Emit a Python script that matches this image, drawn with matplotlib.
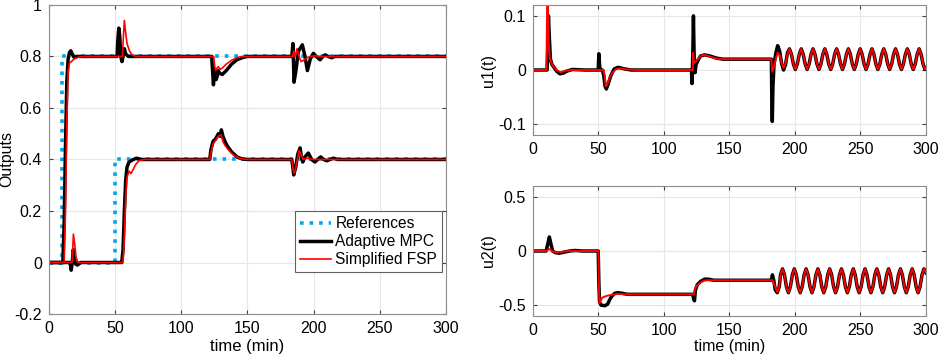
import matplotlib as mpl
mpl.use('Agg')
import matplotlib.pyplot as plt
from matplotlib.ticker import FuncFormatter

plt.rcParams['font.family'] = ['Liberation Sans', 'DejaVu Sans']
plt.rcParams['axes.unicode_minus'] = False

# references
ref1_t = [0, 10, 10, 300]
ref1_v = [0, 0, 0.8, 0.8]
ref2_t = [0, 50, 50, 300]
ref2_v = [0, 0, 0.4, 0.4]

# output 1, adaptive MPC
y1_mpc_t = [0, 10.5, 11.5, 12.5, 13.5, 14.5, 15.5, 16.5, 17.5, 19, 21, 51.5, 52, 52.8, 53.5, 54.3,
            55.2, 56, 57, 58, 60, 123, 123.7, 124.3, 125, 125.6, 126.3, 127, 128, 129, 131, 134,
            138, 142, 146, 150, 183.5, 184.4, 185.2, 186.5, 188.5, 191.5, 193.5, 195.3, 197.5,
            199.8, 202, 204.9, 207, 208.7, 211, 213.7, 216, 220, 300]
y1_mpc_v = [0, 0, 0.15, 0.45, 0.7, 0.79, 0.815, 0.822, 0.81, 0.797, 0.8, 0.8, 0.86, 0.91, 0.88, 0.8,
            0.78, 0.8, 0.83, 0.81, 0.8, 0.8, 0.74, 0.69, 0.73, 0.75, 0.71, 0.72, 0.745, 0.735, 0.73, 0.745,
            0.77, 0.787, 0.795, 0.8, 0.8, 0.85, 0.70, 0.74, 0.82, 0.845, 0.80, 0.745, 0.79,
            0.812, 0.80, 0.787, 0.80, 0.806, 0.80, 0.795, 0.80, 0.80, 0.80]

# output 1, simplified FSP
y1_fsp_t = [0, 11.5, 12.5, 13.5, 14.5, 15.5, 17, 19, 22, 26, 55.5, 56.3, 57, 57.8, 59, 61, 63, 66,
            124.5, 125.3, 126, 127, 128, 129.5, 131, 134, 138, 142, 146, 184, 185, 186, 187.5, 189,
            190.5, 192.5, 195, 198, 201, 205, 300]
y1_fsp_v = [0, 0, 0.2, 0.55, 0.74, 0.775, 0.78, 0.79, 0.797, 0.8, 0.8, 0.88, 0.94, 0.9, 0.85, 0.82, 0.805, 0.8,
            0.8, 0.76, 0.745, 0.755, 0.76, 0.75, 0.755, 0.77, 0.785, 0.795, 0.8, 0.8, 0.82, 0.8, 0.83, 0.8,
            0.78, 0.785, 0.795, 0.8, 0.803, 0.8, 0.8]

# output 2, adaptive MPC
y2_mpc_t = [0, 16, 16.8, 17.6, 18.4, 19.2, 20, 21.5, 24, 55, 56, 57, 58, 59, 60.5, 63, 66, 70,
            121.5, 122.5, 124, 126, 128, 129.5, 130.3, 131.5, 133, 135, 138, 142, 146, 150,
            183.5, 184.3, 185, 186.5, 188, 189.8, 190.8, 191.8, 193.5, 196, 198.5, 201, 203,
            205.4, 207.5, 210, 212.5, 215, 218, 300]
y2_mpc_v = [0, 0, -0.03, 0.0, 0.05, 0.02, -0.005, -0.01, 0, 0, 0.05, 0.2, 0.32, 0.37, 0.39, 0.398, 0.405, 0.4,
            0.4, 0.44, 0.47, 0.48, 0.5, 0.49, 0.515, 0.49, 0.47, 0.45, 0.43, 0.41, 0.402, 0.4,
            0.4, 0.37, 0.34, 0.37, 0.42, 0.445, 0.41, 0.39, 0.41, 0.425, 0.40, 0.39, 0.40,
            0.41, 0.40, 0.395, 0.40, 0.405, 0.40, 0.40]

# output 2, simplified FSP
y2_fsp_t = [0, 17.5, 18.5, 19.5, 20.5, 22, 56, 57, 58, 59, 60.5, 62, 63.5, 65.5, 68, 72,
            121.5, 122.5, 124, 126, 128, 130, 131.5, 133, 136, 140, 145, 150,
            183.5, 184.5, 185.5, 187, 189, 190.5, 192, 195, 200, 300]
y2_fsp_v = [0, 0, 0.11, 0.07, 0.02, 0, 0, 0.1, 0.25, 0.33, 0.355, 0.345, 0.36, 0.38, 0.395, 0.4,
            0.4, 0.43, 0.46, 0.475, 0.49, 0.495, 0.47, 0.455, 0.435, 0.415, 0.403, 0.4,
            0.4, 0.36, 0.345, 0.38, 0.435, 0.42, 0.40, 0.405, 0.40, 0.40]

# u1 transients up to the start of the steady oscillation
u1_mpc_t = [0, 10.8, 11.5, 11.8, 12.5, 13.3, 14.5, 16, 18, 20.5, 23, 26, 30, 35, 40, 49.8, 50.3, 50.8,
            51.3, 53, 54, 55, 56, 57.5, 59.5, 62, 65, 70, 75, 121, 121.4, 122, 122.5, 123, 123.7,
            124.5, 126, 128, 131, 135, 140, 145, 182, 182.3, 182.7, 183.2, 184, 185.3, 186.8,
            188.3, 189.8, 191.3, 192.8, 194.3]
u1_mpc_v = [0, 0, 0.06, 0.10, 0.06, 0.02, 0.01, 0.005, -0.002, -0.007, -0.006, -0.002, 0.001, 0.0005, 0, 0, 0.03, 0.01,
            0, 0, -0.01, -0.03, -0.035, -0.025, -0.01, 0.002, 0.005, 0.002, 0, 0, -0.025, 0.03, 0.10, 0.03, -0.005,
            0.01, 0.018, 0.026, 0.028, 0.026, 0.022, 0.02, 0.02, -0.05, -0.095, -0.03, 0.01, 0.03, 0.045,
            0.035, 0.012, 0.0, 0.01, 0.032]
u1_fsp_t = [0, 10.3, 10.6, 11, 11.6, 12.2, 13, 15, 18, 21, 25, 30, 54, 54.8, 55.5, 56.5, 58, 60, 63,
            66, 72, 80, 122, 122.3, 123, 124, 126, 128.5, 131, 135, 140, 146, 182, 182.6, 184,
            185.3, 186.8, 188.3, 189.8, 191.3, 192.8, 194.3]
u1_fsp_v = [0, 0, 0.08, 0.16, 0.10, 0.04, 0.02, 0.008, 0, -0.004, -0.001, 0, 0, -0.012, -0.03, -0.028, -0.018, -0.007, 0.001,
            0.003, 0.001, 0, 0, 0.032, 0.012, 0.015, 0.02, 0.027, 0.028, 0.025, 0.021, 0.02, 0.02, -0.003, 0.005,
            0.02, 0.032, 0.028, 0.013, 0.004, 0.012, 0.03]

# u1 steady oscillation (both controllers overlap)
u1_osc_t = [195.8, 197.3, 198.8, 200.3, 201.8, 203.3,
            204.8, 206.3, 207.8, 209.3, 210.8, 212.3,
            213.8, 215.3, 216.8, 218.3, 219.8, 221.3,
            222.8, 224.3, 225.8, 227.3, 228.8, 230.3,
            231.8, 233.3, 234.8, 236.3, 237.8, 239.3,
            240.8, 242.3, 243.8, 245.3, 246.8, 248.3,
            249.8, 251.3, 252.8, 254.3, 255.8, 257.3,
            258.8, 260.3, 261.8, 263.3, 264.8, 266.3,
            267.8, 269.3, 270.8, 272.3, 273.8, 275.3,
            276.8, 278.3, 279.8, 281.3, 282.8, 284.3,
            285.8, 287.3, 288.8, 290.3, 291.8, 293.3,
            294.8, 296.3, 297.8, 299.3, 300]
u1_osc_v = [0.039, 0.029, 0.011, 0.001, 0.011, 0.029,
            0.039, 0.029, 0.011, 0.001, 0.011, 0.029,
            0.039, 0.029, 0.011, 0.001, 0.011, 0.029,
            0.039, 0.029, 0.011, 0.001, 0.011, 0.029,
            0.039, 0.029, 0.011, 0.001, 0.011, 0.029,
            0.039, 0.029, 0.011, 0.001, 0.011, 0.029,
            0.039, 0.029, 0.011, 0.001, 0.011, 0.029,
            0.039, 0.029, 0.011, 0.001, 0.011, 0.029,
            0.039, 0.029, 0.011, 0.001, 0.011, 0.029,
            0.039, 0.029, 0.011, 0.001, 0.011, 0.029,
            0.039, 0.029, 0.011, 0.001, 0.011, 0.029,
            0.039, 0.029, 0.011, 0.001, 0.003]

# u2 transients
u2_mpc_t = [0, 10, 11, 12.5, 13.8, 15, 17, 20, 24, 28, 32, 38, 49.8, 50.3, 50.8, 52, 55, 57, 58.5,
            60, 62.5, 65, 68, 72, 122, 122.6, 123.3, 124, 125.5, 128, 131, 134, 138, 182, 182.8,
            183.8, 185, 186.5, 188, 189]
u2_mpc_v = [0, 0, 0.05, 0.13, 0.06, 0, -0.015, -0.02, -0.01, 0, 0.005, 0, 0, -0.3, -0.47, -0.5, -0.505, -0.49, -0.45,
            -0.42, -0.39, -0.385, -0.39, -0.4, -0.4, -0.44, -0.46, -0.36, -0.31, -0.28, -0.26, -0.26, -0.27, -0.27, -0.22,
            -0.27, -0.36, -0.385, -0.33, -0.22]
u2_fsp_t = [0, 10.5, 12, 13, 15, 18, 22, 28, 50, 50.3, 50.7, 51.5, 53, 56, 60, 65, 70, 122, 122.8,
            123.5, 125, 128, 131, 135, 182, 183, 184.5, 186.5, 188, 189]
u2_fsp_v = [0, 0, 0.02, 0.015, -0.005, -0.012, -0.008, 0, 0, -0.3, -0.48, -0.46, -0.43, -0.415, -0.405, -0.395, -0.4, -0.4, -0.4,
            -0.36, -0.32, -0.29, -0.272, -0.27, -0.27, -0.27, -0.32, -0.38, -0.33, -0.22]

# u2 steady oscillation
u2_osc_t = [190.5, 192, 193.5, 195, 196.5, 198,
            199.5, 201, 202.5, 204, 205.5, 207,
            208.5, 210, 211.5, 213, 214.5, 216,
            217.5, 219, 220.5, 222, 223.5, 225,
            226.5, 228, 229.5, 231, 232.5, 234,
            235.5, 237, 238.5, 240, 241.5, 243,
            244.5, 246, 247.5, 249, 250.5, 252,
            253.5, 255, 256.5, 258, 259.5, 261,
            262.5, 264, 265.5, 267, 268.5, 270,
            271.5, 273, 274.5, 276, 277.5, 279,
            280.5, 282, 283.5, 285, 286.5, 288,
            289.5, 291, 292.5, 294, 295.5, 297,
            298.5, 300]
u2_osc_v = [-0.165, -0.22, -0.33, -0.385, -0.33, -0.22,
            -0.165, -0.22, -0.33, -0.385, -0.33, -0.22,
            -0.165, -0.22, -0.33, -0.385, -0.33, -0.22,
            -0.165, -0.22, -0.33, -0.385, -0.33, -0.22,
            -0.165, -0.22, -0.33, -0.385, -0.33, -0.22,
            -0.165, -0.22, -0.33, -0.385, -0.33, -0.22,
            -0.165, -0.22, -0.33, -0.385, -0.33, -0.22,
            -0.165, -0.22, -0.33, -0.385, -0.33, -0.22,
            -0.165, -0.22, -0.33, -0.385, -0.33, -0.22,
            -0.165, -0.22, -0.33, -0.385, -0.33, -0.22,
            -0.165, -0.22, -0.33, -0.385, -0.33, -0.22,
            -0.165, -0.22, -0.33, -0.385, -0.33, -0.22,
            -0.165, -0.2]

x_ticks = [0, 50, 100, 150, 200, 250, 300]
ref_color = '#00a6f0'
fs = 11.5


def style(ax, yticks, ylim):
    ax.set_xlim(0, 300)
    ax.set_ylim(*ylim)
    ax.set_xticks(x_ticks)
    ax.set_yticks(yticks)
    ax.yaxis.set_major_formatter(FuncFormatter(lambda v, _: '%g' % round(v, 3)))
    ax.grid(True, color='#e6e6e6', linewidth=0.8)
    ax.set_axisbelow(True)
    ax.tick_params(direction='in', length=3, top=True, right=True, labelsize=fs,
                   color='#404040', pad=5)
    for s in ax.spines.values():
        s.set_color('#8c8c8c')
        s.set_linewidth(0.8)


fig = plt.figure(figsize=(9.41, 3.59), dpi=100)
ax0 = fig.add_axes([0.052, 0.1253, 0.4219, 0.861])
ax1 = fig.add_axes([0.5664, 0.624, 0.4176, 0.362])
ax2 = fig.add_axes([0.5664, 0.1198, 0.4176, 0.362])

ax0.plot(ref1_t, ref1_v, ':', color=ref_color, lw=2.6, label='References')
ax0.plot(ref2_t, ref2_v, ':', color=ref_color, lw=2.6)
ax0.plot(y1_mpc_t, y1_mpc_v, color='black', lw=2.5, label='Adaptive MPC')
ax0.plot(y2_mpc_t, y2_mpc_v, color='black', lw=2.5)
ax0.plot(y1_fsp_t, y1_fsp_v, color='#ff0000', lw=1.2, label='Simplified FSP')
ax0.plot(y2_fsp_t, y2_fsp_v, color='#ff0000', lw=1.2)
style(ax0, [-0.2, 0, 0.2, 0.4, 0.6, 0.8, 1], (-0.2, 1))
ax0.set_ylabel('Outputs', fontsize=11.5)
ax0.yaxis.set_label_coords(-0.087, 0.5)
ax0.set_xlabel('time (min)', fontsize=12, labelpad=2)
leg = ax0.legend(loc='lower right', bbox_to_anchor=(0.99, 0.136), fontsize=11.2,
                 fancybox=False, framealpha=1, edgecolor='#606060', handlelength=2.0,
                 handletextpad=0.3, borderpad=0.3, labelspacing=0.2, borderaxespad=0)
leg.get_frame().set_linewidth(0.8)

ax1.plot(u1_mpc_t + u1_osc_t, u1_mpc_v + u1_osc_v, color='black', lw=2.5)
ax1.plot(u1_fsp_t + u1_osc_t, u1_fsp_v + u1_osc_v, color='#ff0000', lw=1.4)
style(ax1, [-0.1, 0, 0.1], (-0.12, 0.12))
ax1.set_ylabel('u1(t)', fontsize=fs, labelpad=2)

ax2.plot(u2_mpc_t + u2_osc_t, u2_mpc_v + u2_osc_v, color='black', lw=2.5)
ax2.plot(u2_fsp_t + u2_osc_t, u2_fsp_v + u2_osc_v, color='#ff0000', lw=1.4)
style(ax2, [-0.5, 0, 0.5], (-0.6, 0.6))
ax2.set_ylabel('u2(t)', fontsize=fs, labelpad=2)
ax2.set_xlabel('time (min)', fontsize=fs, labelpad=1)

fig.savefig('out.png', dpi=100)
plt.close(fig)
